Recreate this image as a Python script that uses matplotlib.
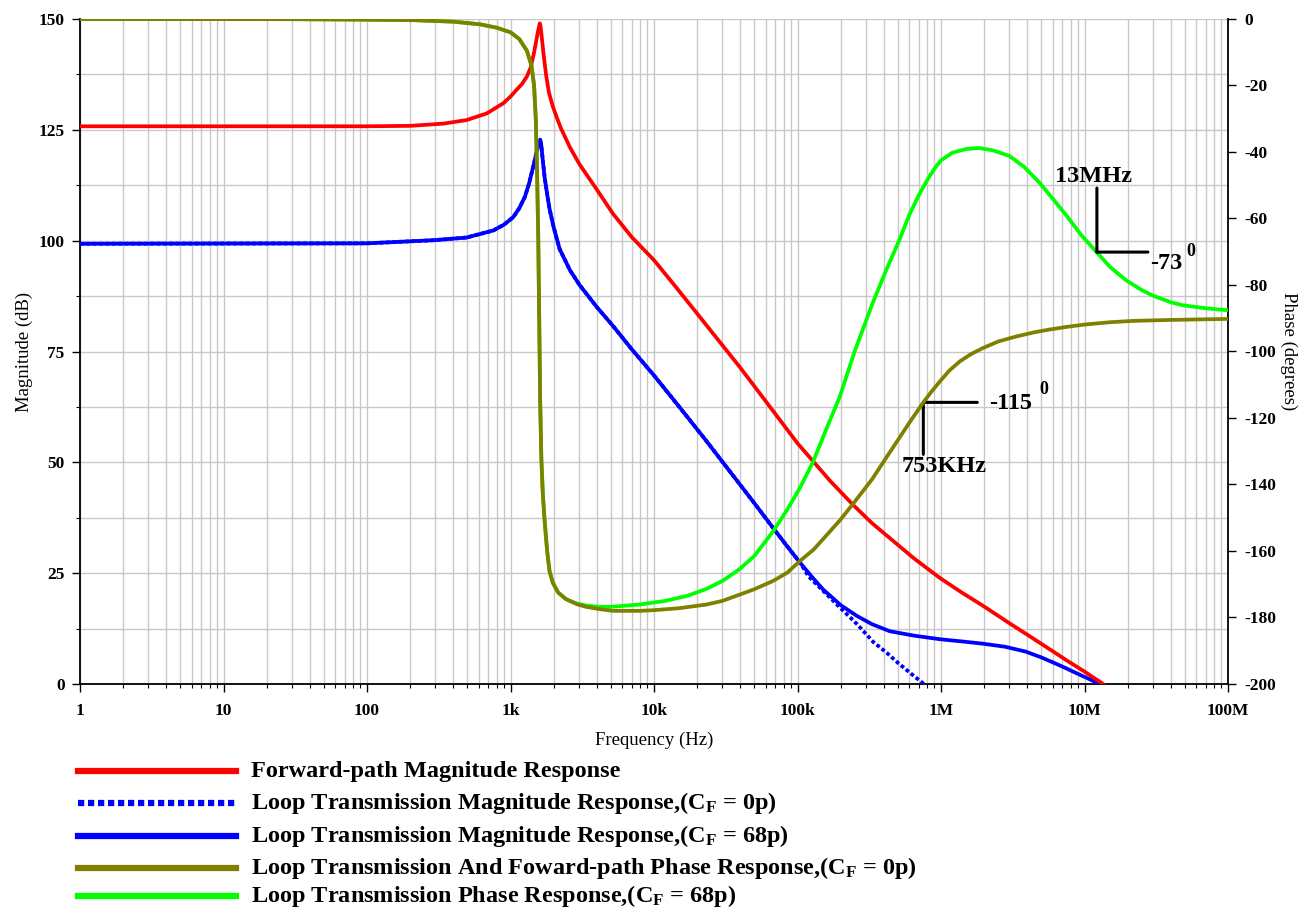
import matplotlib
matplotlib.use('Agg')
import matplotlib.pyplot as plt
from matplotlib.ticker import FixedLocator, FixedFormatter, MultipleLocator, LogLocator, NullFormatter
from matplotlib.lines import Line2D
from matplotlib.font_manager import FontProperties

plt.rcParams['font.family'] = ['Liberation Serif', 'DejaVu Serif']
plt.rcParams['mathtext.fontset'] = 'custom'
plt.rcParams['mathtext.rm'] = 'Liberation Serif:bold'
plt.rcParams['mathtext.it'] = 'Liberation Serif:bold'
plt.rcParams['mathtext.bf'] = 'Liberation Serif:bold'
plt.rcParams['axes.unicode_minus'] = False

# ---------------- data ----------------
fwd_mag_freq = [1, 100, 200, 340, 494, 683, 891, 1000, 1100, 1200, 1300, 1380, 1450, 1500, 1550, 1600,
                1620, 1650, 1700, 1770, 1850, 1970, 2100, 2250, 2600, 3030, 4000, 5170, 7000,
                10000, 14000, 19700, 28000, 39600, 60000, 100000, 128000, 170000, 244000, 330000,
                440000, 650000, 984000, 1400000, 1950000, 3000000, 4370000, 6000000, 7450000,
                10000000, 13500000]
fwd_mag_db = [125.8, 125.8, 125.9, 126.4, 127.2, 128.7, 131.0, 132.5, 134.0, 135.3, 137.0, 139.0, 142.0, 144.5, 147.0, 149.0,
              148.3, 146.0, 142.0, 137.4, 133.5, 130.3, 127.8, 125.3, 121.0, 117.2, 111.5, 106.1, 100.8,
              95.6, 89.8, 83.8, 77.6, 71.5, 63.8, 54.3, 50.3, 45.7, 40.4, 36.3,
              32.9, 28.3, 23.9, 20.6, 17.7, 13.7, 10.3, 7.4, 5.4,
              2.8, 0.0]

loop68_mag_freq = [1, 100, 290, 494, 759, 900, 1045, 1150, 1260, 1350, 1400, 1460, 1520, 1570, 1610,
                   1640, 1680, 1730, 1800, 1870, 2000, 2200, 2600, 3030, 4000, 5170, 7000, 10000,
                   15100, 23200, 35000, 50000, 67600, 85000, 104000, 125000, 151000, 200000, 258000,
                   330000, 440000, 650000, 984000, 1400000, 1950000, 2800000, 3900000, 5000000,
                   6300000, 7500000, 8700000, 10500000, 12700000]
loop68_mag_db = [99.3, 99.4, 100.1, 100.7, 102.3, 103.6, 105.3, 107.3, 109.9, 113.0, 115.1, 117.5, 120.0, 122.0, 122.8,
                 121.5, 118.0, 114.2, 110.5, 107.2, 103.0, 98.1, 93.3, 90.0, 85.0, 80.8, 75.5, 69.6,
                 62.4, 54.8, 47.3, 40.8, 35.2, 31.0, 27.4, 24.3, 21.3, 17.8, 15.4,
                 13.5, 11.9, 10.9, 10.1, 9.6, 9.1, 8.4, 7.3, 6.0,
                 4.6, 3.5, 2.5, 1.3, 0.0]

loop0_mag_freq = [1, 100, 290, 494, 759, 900, 1045, 1150, 1260, 1350, 1400, 1460, 1520, 1570, 1610,
                  1640, 1680, 1730, 1800, 1870, 2000, 2200, 2600, 3030, 4000, 5170, 7000, 10000,
                  15100, 23200, 35000, 50000, 67600, 85000, 104000, 120000, 151000, 197000, 260000,
                  337000, 420000, 500000, 620000, 760000]
loop0_mag_db = [99.3, 99.4, 100.1, 100.7, 102.3, 103.6, 105.3, 107.3, 109.9, 113.0, 115.1, 117.5, 120.0, 122.0, 122.8,
                121.5, 118.0, 114.2, 110.5, 107.2, 103.0, 98.1, 93.3, 90.0, 85.0, 80.8, 75.5, 69.6,
                62.4, 54.8, 47.3, 40.8, 35.2, 31.0, 27.4, 24.2, 21.0, 17.3, 13.5,
                9.5, 7.0, 4.8, 2.3, 0.0]

phase0_freq = [1, 30, 100, 210, 400, 613, 800, 1000, 1150, 1300, 1400, 1460, 1500, 1530, 1560,
               1585, 1610, 1640, 1680, 1730, 1800, 1870, 1970, 2150, 2440, 2900, 3370, 4200,
               5170, 7940, 10000, 15000, 23200, 30000, 39600, 50000, 67600, 85000, 104000,
               130000, 159000, 200000, 244000, 330000, 440000, 600000, 753000, 850000, 1000000,
               1140000, 1350000, 1600000, 1950000, 2500000, 3330000, 4500000, 5700000, 7500000,
               10000000, 15000000, 21700000, 40000000, 100000000]
phase0_deg = [0, -0.05, -0.2, -0.35, -0.8, -1.6, -2.6, -4.0, -6.0, -9.5, -14, -20, -30, -45, -65,
              -90, -115, -132, -143, -151, -160, -166, -169.5, -172.5, -174.5, -176, -176.8, -177.5,
              -178, -178, -177.8, -177.2, -176.1, -175, -173.1, -171.5, -169, -166.5, -163,
              -159.5, -155.3, -150.5, -145.8, -138.5, -130.3, -121.5, -115.3, -112.3, -108.6,
              -105.8, -103.0, -100.9, -99.0, -97.0, -95.5, -94.2, -93.4, -92.6,
              -91.9, -91.2, -90.8, -90.5, -90.2]

phase68_freq = [1, 30, 100, 210, 400, 613, 800, 1000, 1150, 1300, 1400, 1460, 1500, 1530, 1560,
                1585, 1610, 1640, 1680, 1730, 1800, 1870, 1970, 2150, 2440, 2900, 3370, 4200,
                5000, 7940, 12000, 17000, 23200, 30000, 39600, 50000, 67600, 85000, 104000,
                128000, 160000, 197000, 250000, 337000, 420000, 518000, 600000, 700000, 800000,
                900000, 1000000, 1200000, 1500000, 1850000, 2300000, 3000000, 3800000, 4850000,
                6000000, 7450000, 9500000, 12200000, 15000000, 19500000, 25000000, 30000000,
                40000000, 48500000, 70000000, 100000000]
phase68_deg = [0, -0.05, -0.2, -0.35, -0.8, -1.6, -2.6, -4.0, -6.0, -9.5, -14, -20, -30, -45, -65,
               -90, -115, -132, -143, -151, -160, -166, -169.5, -172.5, -174.5, -175.8, -176.4, -176.8,
               -176.8, -176.1, -175, -173.5, -171.4, -169, -165.4, -161.5, -154.1, -147.5, -141,
               -133.3, -123, -113.6, -100, -85, -75, -66, -59, -53, -48.5,
               -45, -42.5, -40.2, -39.1, -38.8, -39.5, -41.2, -44.5, -49.2,
               -54, -59, -65, -70.2, -74.5, -78.6, -81.5, -83.2,
               -85.2, -86.1, -87, -87.6]

x_ticks = [1, 10, 100, 1e3, 1e4, 1e5, 1e6, 1e7, 1e8]
x_tick_labels = ['1', '10', '100', '1k', '10k', '100k', '1M', '10M', '100M']
mag_ticks = [0, 25, 50, 75, 100, 125, 150]
phase_ticks = [0, -20, -40, -60, -80, -100, -120, -140, -160, -180, -200]

legend_labels = [
    'Forward-path Magnitude Response',
    r'Loop Transmission Magnitude Response,($\mathrm{C_F}$ = 0p)',
    r'Loop Transmission Magnitude Response,($\mathrm{C_F}$ = 68p)',
    r'Loop Transmission And Foward-path Phase Response,($\mathrm{C_F}$ = 0p)',
    r'Loop Transmission Phase Response,($\mathrm{C_F}$ = 68p)',
]

RED = '#ff0000'
BLUE = '#0000ff'
OLIVE = '#808000'
GREEN = '#00ff00'
GRID = '#c8c8c8'

W, H = 1316, 911
fig = plt.figure(figsize=(W / 100, H / 100), dpi=100)
L, R, T, B = 80, 1228, 19, 684
ax = fig.add_axes([L / W, 1 - B / H, (R - L) / W, (B - T) / H])
ax.set_xscale('log')
ax.set_xlim(1, 1e8)
ax.set_ylim(0, 150)
ax.set_axisbelow(True)

ax.xaxis.set_major_locator(FixedLocator(x_ticks))
ax.xaxis.set_major_formatter(FixedFormatter(x_tick_labels))
ax.xaxis.set_minor_locator(LogLocator(base=10, subs=range(2, 10), numticks=50))
ax.xaxis.set_minor_formatter(NullFormatter())
ax.yaxis.set_major_locator(FixedLocator(mag_ticks))
ax.yaxis.set_minor_locator(MultipleLocator(12.5))
ax.grid(True, which='both', color=GRID, lw=1.0)

ax2 = ax.twinx()
ax2.set_ylim(-200, 0)
ax2.yaxis.set_major_locator(FixedLocator(phase_ticks))
ax2.yaxis.set_major_formatter(FixedFormatter([str(v) for v in phase_ticks]))

for a in (ax, ax2):
    a.spines['top'].set_visible(False)
ax.spines['right'].set_visible(False)
ax2.spines['left'].set_visible(False)
ax2.spines['bottom'].set_visible(False)
for s in (ax.spines['left'], ax.spines['bottom'], ax2.spines['right']):
    s.set_color('black')
    s.set_linewidth(1.3)

tick_fp = FontProperties(family='Liberation Serif', weight='bold', size=12.5)
ax.tick_params(axis='x', which='major', length=6, width=1, pad=8, direction='out')
ax.tick_params(axis='x', which='minor', length=3, width=0.8, direction='out')
ax.tick_params(axis='y', which='major', length=6, width=1, pad=5, direction='out')
ax.tick_params(axis='y', which='minor', length=3, width=0.8, direction='out')
ax2.tick_params(axis='y', which='major', length=6, width=1, pad=6, direction='out')
for lab in ax.get_xticklabels() + ax.get_yticklabels() + ax2.get_yticklabels():
    lab.set_fontproperties(tick_fp)

ax.set_xlabel('Frequency (Hz)', fontsize=13.5, labelpad=9)
ax.set_ylabel('Magnitude (dB)', fontsize=13.5, labelpad=4)
ax2.set_ylabel('Phase (degrees)', fontsize=13.5, rotation=270, labelpad=15)

lw = 2.7
l_fwd, = ax.plot(fwd_mag_freq, fwd_mag_db, color=RED, lw=lw, zorder=4)
l_l0, = ax.plot(loop0_mag_freq, loop0_mag_db, color=BLUE, lw=lw, dashes=(1, 0.7), zorder=3)
l_l68, = ax.plot(loop68_mag_freq, loop68_mag_db, color=BLUE, lw=lw, zorder=3)
l_p68, = ax2.plot(phase68_freq, phase68_deg, color=GREEN, lw=lw, zorder=3)
l_p0, = ax2.plot(phase0_freq, phase0_deg, color=OLIVE, lw=lw, zorder=4)

# annotations
ann_kw = dict(arrowstyle='-', lw=2.2, color='black', shrinkA=0, shrinkB=0)
afont = dict(fontsize=17.5, fontweight='bold', ha='center', va='center')
sfont = dict(fontsize=13, fontweight='bold', ha='center', va='center')
c1 = (753e3, -115.3)
ax2.annotate('', xy=c1, xytext=(0, -52), textcoords='offset pixels', arrowprops=ann_kw)
ax2.annotate('', xy=c1, xytext=(54, 0), textcoords='offset pixels', arrowprops=ann_kw)
ax2.annotate('753KHz', xy=c1, xytext=(21, -64), textcoords='offset pixels', **afont)
ax2.annotate('-115', xy=c1, xytext=(87, -1), textcoords='offset pixels', **afont)
ax2.annotate('0', xy=c1, xytext=(120, 13), textcoords='offset pixels', **sfont)

c2 = (12.2e6, -70.1)
ax2.annotate('', xy=c2, xytext=(0, 64), textcoords='offset pixels', arrowprops=ann_kw)
ax2.annotate('', xy=c2, xytext=(51, 0), textcoords='offset pixels', arrowprops=ann_kw)
ax2.annotate('13MHz', xy=c2, xytext=(-3, 76), textcoords='offset pixels', **afont)
ax2.annotate('-73', xy=c2, xytext=(69, -11), textcoords='offset pixels', **afont)
ax2.annotate('0', xy=c2, xytext=(94, 1), textcoords='offset pixels', **sfont)

# legend (manual, below the plot)
handles = [l_fwd, l_l0, l_l68, l_p0, l_p68]
rows_y = [771, 803, 836, 868, 896]
for h, lab, yy in zip(handles, legend_labels, rows_y):
    yf = 1 - yy / H
    ln = Line2D([78 / W, 236 / W], [yf, yf], transform=fig.transFigure,
                color=h.get_color(), lw=4.5)
    if h is l_l0:
        ln.set_dashes((1, 0.6))
    fig.add_artist(ln)
    fig.text(251 / W, yf, lab, fontsize=17.5, fontweight='bold', ha='left', va='center')

fig.savefig('out.png', dpi=100)
